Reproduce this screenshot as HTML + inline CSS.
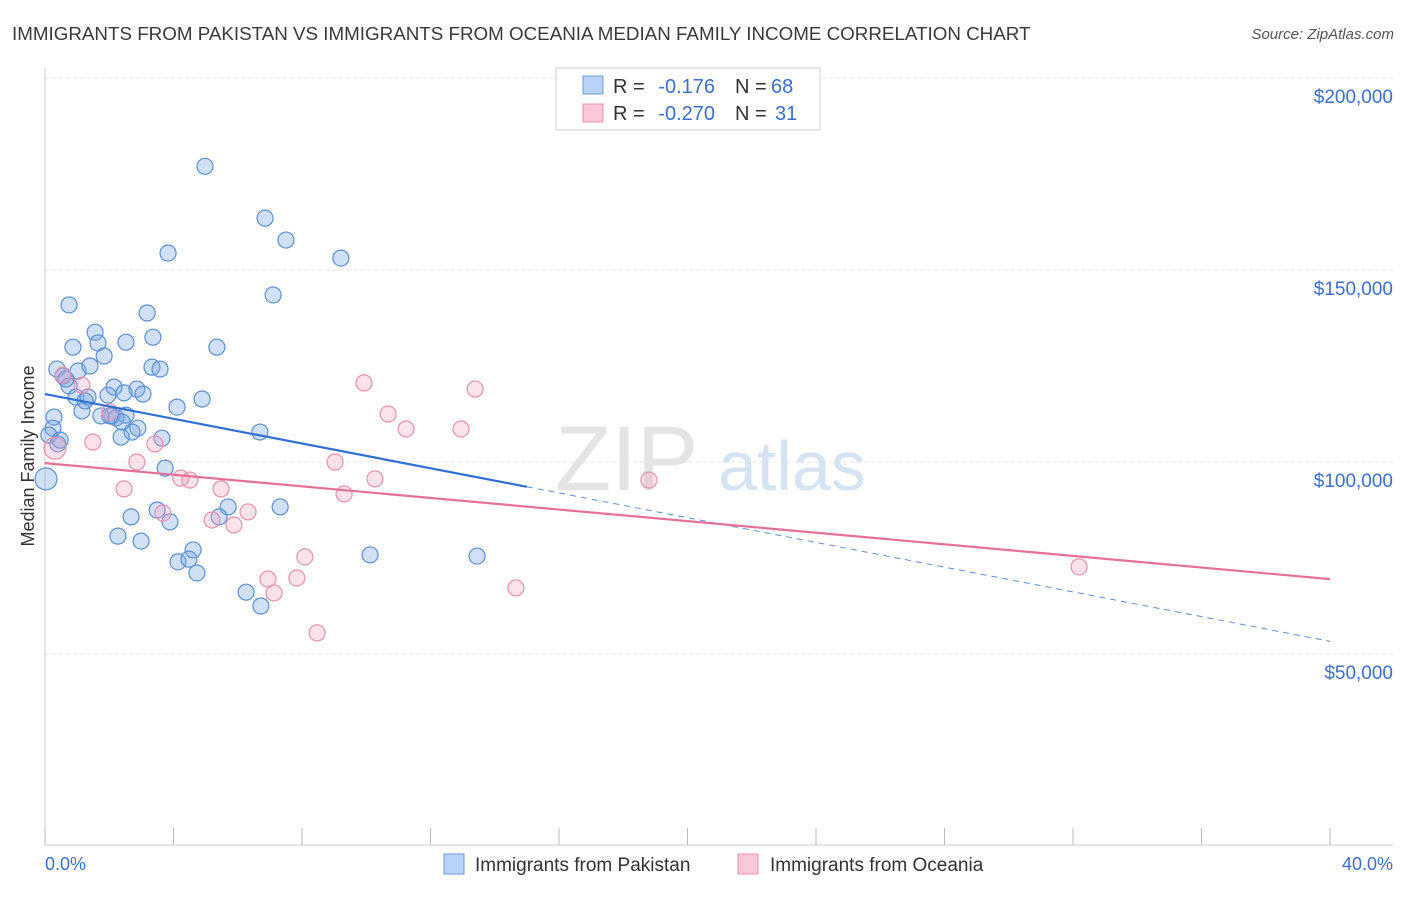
<!DOCTYPE html>
<html><head><meta charset="utf-8"><style>
body{margin:0;background:#fff;font-family:"Liberation Sans",sans-serif}
svg text{font-family:"Liberation Sans",sans-serif}
</style></head><body>
<svg id="chart" width="1406" height="892" viewBox="0 0 1406 892" xmlns="http://www.w3.org/2000/svg">
<text x="12" y="40" font-size="18.8" fill="#3a3a3a">IMMIGRANTS FROM PAKISTAN VS IMMIGRANTS FROM OCEANIA MEDIAN FAMILY INCOME CORRELATION CHART</text>
<text x="1394" y="39" font-size="15" font-style="italic" fill="#555" text-anchor="end">Source: ZipAtlas.com</text>
<g id="grid"></g>
<g>
<text x="555" y="490" font-size="92" font-family="Liberation Serif" fill="#e4e4e4">ZIP</text>
<text x="718" y="490" font-size="70" fill="#d6e3f3">atlas</text>
</g>
<line x1="45" y1="845" x2="1393" y2="845" stroke="#ccc"/>
<line x1="45" y1="68" x2="45" y2="845" stroke="#ccc"/>
<g id="xticks"></g>
<g id="ylabels"></g>
<g id="points"></g>
<g id="lines"></g>
<text transform="translate(34,456) rotate(-90)" font-size="18" fill="#333" text-anchor="middle">Median Family Income</text>
<text x="45" y="870" font-size="18" fill="#3a6fd0">0.0%</text>
<text x="1393" y="870" font-size="18" fill="#3a6fd0" text-anchor="end">40.0%</text>
<g>
<rect x="556" y="68" width="264" height="62" fill="#fff" stroke="#ccc"/>
<rect x="583" y="76" width="20" height="18" fill="#b8d3f5" stroke="#6c9ae0"/>
<rect x="583" y="104" width="20" height="18" fill="#fac8d6" stroke="#e891ac"/>
<text x="613" y="93" font-size="20" fill="#333">R =</text>
<text x="715" y="93" font-size="20" fill="#3a6fd0" text-anchor="end">-0.176</text>
<text x="735" y="93" font-size="20" fill="#333">N =</text>
<text x="771" y="93" font-size="20" fill="#3a6fd0">68</text>
<text x="613" y="120" font-size="20" fill="#333">R =</text>
<text x="715" y="120" font-size="20" fill="#3a6fd0" text-anchor="end">-0.270</text>
<text x="735" y="120" font-size="20" fill="#333">N =</text>
<text x="775" y="120" font-size="20" fill="#3a6fd0">31</text>
</g>
<g>
<rect x="444" y="854" width="20" height="20" fill="#b8d3f5" stroke="#6c9ae0"/>
<text x="475" y="871" font-size="19" fill="#333">Immigrants from Pakistan</text>
<rect x="738" y="854" width="20" height="20" fill="#fac8d6" stroke="#e891ac"/>
<text x="770" y="871" font-size="19" fill="#333">Immigrants from Oceania</text>
</g>
</svg>
<script>
const yTicks=[50000,100000,150000,200000];
const yTickLabels=["$50,000","$100,000","$150,000","$200,000"];
const xTicks=[0,4,8,12,16,20,24,28,32,36,40];
const pakX=[4.98,6.85,7.50,9.21,3.83,7.10,0.75,3.18,1.56,3.36,1.65,2.52,0.87,5.35,1.84,3.33,3.58,0.37,1.03,1.40,0.56,0.75,2.15,2.86,3.05,1.96,0.96,1.34,2.46,4.89,0.28,1.15,4.11,2.09,2.52,2.21,1.74,2.40,2.89,2.71,0.25,0.12,6.69,2.37,3.64,0.40,0.03,3.74,5.70,3.49,2.68,7.32,3.89,5.42,2.27,2.99,4.61,4.14,4.48,4.73,10.12,13.45,6.26,6.72,1.25,0.47,0.65,2.02];
const pakY=[177000,163500,157800,153100,154400,143500,140900,138800,133800,132500,131000,131200,129900,129900,127600,124700,124200,124200,123700,125000,122400,119800,119500,119000,117700,117400,116900,116900,118000,116400,111700,113300,114300,112000,112200,111500,112000,110400,108800,107800,108800,107000,107800,106500,106200,104700,95600,98400,88300,87500,85700,88300,84400,85700,80700,79400,77100,74000,74700,71100,75800,75500,66100,62500,115900,105700,121600,112000];
const oceX=[0.56,1.15,2.02,9.93,10.68,13.39,11.24,12.95,1.49,3.42,2.86,9.03,4.23,4.51,10.27,2.46,5.48,9.31,3.67,6.32,5.20,5.88,8.09,6.94,7.84,7.13,14.66,8.47,18.80,32.19,0.31];
const oceY=[122600,120000,113000,120600,112500,119000,108600,108600,105200,104700,100000,100000,95800,95300,95600,93000,93000,91700,86700,87000,84900,83600,75300,69500,69800,65900,67200,55500,95300,72700,103600];
const pakTrend=[117700,-1610];
const oceTrend=[99700,-755];
const pakSolidEnd=15;
const NS="http://www.w3.org/2000/svg";
const X=v=>45+v/40*1285;
const Y=v=>846-v/50000*192;
function mk(t,a,p){const e=document.createElementNS(NS,t);for(const k in a)e.setAttribute(k,a[k]);p.appendChild(e);return e;}
const grid=document.getElementById('grid'),yl=document.getElementById('ylabels'),xt=document.getElementById('xticks'),pts=document.getElementById('points'),ln=document.getElementById('lines');
yTicks.forEach((v,i)=>{
 const g=mk('line',{x1:45,x2:1393,y1:Y(v),y2:Y(v),stroke:'#e3e3e3','stroke-dasharray':'4,3'},grid);
 
 
 const t=mk('text',{x:1393,y:Y(v)+25,'font-size':19,fill:'#3a6fd0','text-anchor':'end'},yl);
 t.textContent=yTickLabels[i];
 
 
});
xTicks.forEach(v=>{
 const l=mk('line',{x1:X(v),x2:X(v),y1:828,y2:845,stroke:'#bbb'},xt);
 
 
});
pakX.forEach((x,i)=>{
 const c=mk('circle',{cx:X(x),cy:Y(pakY[i]),r:x<0.1?11:8,fill:'rgba(120,168,232,0.35)',stroke:'#5b8fd6','stroke-width':1.2},pts);
 
 
});
oceX.forEach((x,i)=>{
 const c=mk('circle',{cx:X(x),cy:Y(oceY[i]),r:x<0.4?11:8,fill:'rgba(244,160,188,0.3)',stroke:'#e891ac','stroke-width':1.2},pts);
 
 
});
const py=x=>pakTrend[0]+pakTrend[1]*x, oy=x=>oceTrend[0]+oceTrend[1]*x;
const a=mk('line',{x1:X(0),y1:Y(py(0)),x2:X(pakSolidEnd),y2:Y(py(pakSolidEnd)),stroke:'#2f6fd6','stroke-width':2.2},ln);


const b=mk('line',{x1:X(pakSolidEnd),y1:Y(py(pakSolidEnd)),x2:X(40),y2:Y(py(40)),stroke:'#5b8fd6','stroke-width':1,'stroke-dasharray':'6,5'},ln);


const c=mk('line',{x1:X(0),y1:Y(oy(0)),x2:X(40),y2:Y(oy(40)),stroke:'#e5709a','stroke-width':2.2},ln);


</script>
</body></html>
